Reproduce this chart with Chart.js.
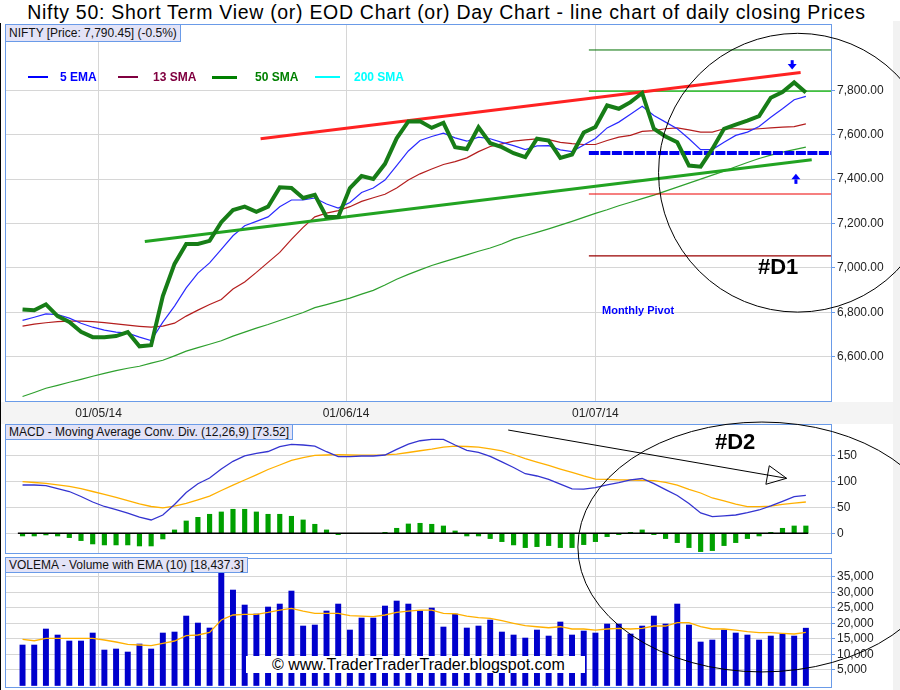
<!DOCTYPE html>
<html>
<head>
<meta charset="utf-8">
<title>Nifty 50 - Day Chart</title>
<script src="https://cdn.jsdelivr.net/npm/chart.js@4.4.1/dist/chart.umd.min.js"></script>
<style>
  html, body { margin: 0; padding: 0; background: #fff; }
  body { width: 900px; height: 690px; position: relative; overflow: hidden;
         font-family: "Liberation Sans", Arial, sans-serif; color: #111; }
  .abs { position: absolute; white-space: nowrap; }
  #title { left: 0; top: 0; width: 893px; text-align: center; font-size: 19.5px; letter-spacing: 0.7px;
           line-height: 24px; color: #000; }
  #rightStrip { left: 893px; top: 21px; width: 7px; height: 669px; background: #f2f2f2; }
  #dateBand { left: 0; top: 402px; width: 893px; height: 22px; background: #f4f4f4; }
  #leftRule { left: 0; top: 23px; width: 1px; height: 667px; background: #000; }
  .panel { position: absolute; left: 0; width: 893px; }
  .tag { position: absolute; left: 5px; padding: 0 3px; font-size: 12px; background: #e3e3f7;
         border: 1px solid #6a9be8; white-space: nowrap; color: #111; }
  .leg { position: absolute; top: 70px; font-size: 12px; line-height: 14px; font-weight: bold; }
  .legLine { position: absolute; top: 76px; height: 2px; }
  .note { position: absolute; font-weight: bold; white-space: nowrap; }
  #watermark { left: 246px; top: 656px; width: 313px; height: 17px; padding-left: 26px; background: #fff;
               font-size: 16px; line-height: 17px; color: #000; }
  #overlay { position: absolute; left: 0; top: 0; width: 900px; height: 690px; pointer-events: none; }
</style>
</head>
<body>
<div id="rightStrip" class="abs"></div>
<div id="dateBand" class="abs"></div>
<div id="title" class="abs">Nifty 50: Short Term View (or) EOD Chart (or) Day Chart - line chart of daily closing Prices</div>

<div class="panel" style="top:23px;height:402px"><canvas id="priceChart"></canvas></div>
<div class="panel" style="top:423px;height:131px"><canvas id="macdChart"></canvas></div>
<div class="panel" style="top:557px;height:131px"><canvas id="volumeChart"></canvas></div>

<div id="leftRule" class="abs"></div>

<div class="tag" style="top:24px;height:16px;line-height:16px">NIFTY [Price: 7,790.45] (-0.5%)</div>
<div class="tag" style="top:424px;height:14px;line-height:14px">MACD - Moving Average Conv. Div. (12,26,9) [73.52]</div>
<div class="tag" style="top:557px;height:14px;line-height:14px">VOLEMA - Volume with EMA (10) [18,437.3]</div>

<div class="legLine" style="left:28px;width:20px;background:#0000ff"></div>
<div class="leg" style="left:60px;color:#0000ff">5 EMA</div>
<div class="legLine" style="left:118px;width:20px;background:#800040"></div>
<div class="leg" style="left:153px;color:#800040">13 SMA</div>
<div class="legLine" style="left:212px;width:25px;background:#008000;height:2.5px"></div>
<div class="leg" style="left:255px;color:#008000">50 SMA</div>
<div class="legLine" style="left:315px;width:25px;background:#00ffff"></div>
<div class="leg" style="left:354px;color:#00ffff">200 SMA</div>

<div class="note" style="left:602px;top:304px;font-size:11px;line-height:13px;color:#0000ff">Monthly Pivot</div>
<div class="note" style="left:758px;top:255px;font-size:22px;line-height:24px;color:#000">#D1</div>
<div class="note" style="left:715px;top:430px;font-size:22px;line-height:24px;color:#000">#D2</div>

<div id="watermark" class="abs">© www.TraderTraderTrader.blogspot.com</div>

<canvas id="overlay"></canvas>

<script>
// daily closes and indicators, one value per trading day (21/04/14 .. 25/07/14)
const priceClose = [6813, 6809, 6836, 6783, 6757, 6712, 6688, 6688, 6693, 6711,
  6647, 6652, 6873, 7018, 7108, 7108, 7122, 7206, 7261, 7276,
  7253, 7276, 7363, 7360, 7315, 7329, 7230, 7230, 7360, 7414,
  7401, 7469, 7584, 7660, 7661, 7631, 7654, 7544, 7536, 7634,
  7562, 7544, 7517, 7499, 7582, 7574, 7496, 7511, 7610, 7635,
  7732, 7717, 7747, 7788, 7627, 7592, 7566, 7461, 7456, 7536,
  7627, 7646, 7664, 7684, 7767, 7792, 7836, 7790.45];

const ema5 = [6764, 6778, 6793, 6790, 6774, 6751, 6733, 6720, 6711, 6706,
  6688, 6673, 6756, 6828, 6910, 6977, 7023, 7084, 7145, 7190,
  7210, 7230, 7276, 7306, 7307, 7315, 7288, 7270, 7295, 7340,
  7360, 7396, 7461, 7527, 7574, 7592, 7607, 7586, 7571, 7589,
  7582, 7566, 7551, 7533, 7550, 7551, 7532, 7524, 7554, 7583,
  7631, 7657, 7692, 7728, 7687, 7657, 7627, 7582, 7533, 7533,
  7566, 7597, 7612, 7637, 7679, 7717, 7758, 7773];

const sma13 = [6738, 6747, 6753, 6758, 6760, 6760, 6758, 6754, 6748, 6742,
  6737, 6733, 6738, 6751, 6783, 6810, 6835, 6858, 6905, 6937,
  6980, 7025, 7070, 7129, 7183, 7230, 7247, 7258, 7276, 7300,
  7316, 7332, 7360, 7396, 7424, 7446, 7466, 7479, 7496, 7524,
  7547, 7559, 7571, 7577, 7581, 7578, 7566, 7560, 7556, 7556,
  7574, 7589, 7597, 7615, 7619, 7627, 7631, 7622, 7612, 7612,
  7627, 7627, 7624, 7627, 7631, 7634, 7637, 7649];

const sma50 = [6421, 6439, 6458, 6471, 6485, 6498, 6512, 6525, 6537, 6548,
  6557, 6571, 6584, 6604, 6625, 6641, 6656, 6672, 6693, 6711,
  6729, 6745, 6763, 6781, 6799, 6821, 6835, 6849, 6864, 6882,
  6899, 6923, 6949, 6971, 6991, 7011, 7027, 7043, 7059, 7075,
  7090, 7108, 7130, 7145, 7160, 7176, 7193, 7210, 7228, 7246,
  7262, 7280, 7296, 7312, 7328, 7346, 7364, 7382, 7400, 7418,
  7436, 7456, 7475, 7493, 7508, 7522, 7533, 7544];

const macdLine = [93.7, 93.7, 92.7, 86.9, 81.1, 71.4, 60.7, 52.0, 45.8, 39.0,
  31.2, 25.8, 35.5, 55.9, 79.2, 96.2, 107.3, 124.7, 139.7, 150.2,
  155.2, 158.7, 168.2, 172.7, 171.3, 169.0, 158.3, 148.6, 148.6, 150.0,
  150.0, 151.9, 163.0, 173.2, 179.6, 182.4, 182.4, 171.3, 161.0, 157.1,
  149.2, 138.7, 127.7, 115.6, 111.2, 104.8, 95.3, 86.3, 85.9, 88.5,
  93.9, 98.4, 103.6, 106.3, 96.4, 84.8, 73.3, 57.8, 39.6, 32.2,
  33.6, 35.5, 40.0, 45.2, 53.0, 62.1, 71.0, 73.52];

const macdSignal = [100.1, 98.6, 96.8, 93.9, 91.2, 86.7, 81.1, 75.5, 69.8, 63.6,
  57.0, 52.0, 49.5, 52.6, 58.0, 65.0, 72.2, 83.0, 93.5, 103.4,
  113.5, 123.8, 132.5, 141.6, 146.9, 151.3, 151.9, 152.5, 151.9, 151.5,
  151.7, 152.3, 153.5, 156.8, 160.2, 163.5, 167.4, 169.0, 168.4, 167.4,
  163.9, 160.1, 152.9, 145.1, 138.3, 131.7, 124.7, 118.0, 111.2, 105.3,
  104.6, 103.8, 103.4, 102.8, 102.2, 98.6, 93.3, 85.4, 78.2, 68.5,
  62.7, 56.8, 51.6, 51.6, 52.6, 56.1, 58.4, 60.7];

const macdHist = [-5.2, -5.2, -3.2, -5.2, -8.4, -14.2, -20.7, -22.6, -22.6, -22.6,
  -24.6, -24.6, -11.0, 6.5, 23.9, 31.0, 36.9, 41.4, 46.6, 46.6,
  41.4, 36.9, 36.9, 33.0, 25.9, 17.5, 6.5, -2.6, 0, 0,
  0, 1.9, 9.7, 18.1, 19.4, 17.5, 14.2, 4.5, -5.2, -5.2,
  -10.3, -16.2, -22.6, -27.8, -25.9, -23.9, -27.8, -27.8, -22.0, -16.2,
  -6.5, -2.6, 1.9, 6.5, -2.6, -10.3, -18.1, -27.8, -35.6, -33.6,
  -23.9, -18.1, -10.3, -5.2, 1.9, 9.7, 14.2, 14.2];

const volume = [13020, 13020, 18170, 16240, 14310, 14310, 16880, 11410, 11740, 10770,
  13340, 11740, 16880, 17200, 22340, 20090, 18490, 36810, 30700, 25880,
  22990, 25240, 26200, 30380, 19130, 19450, 23950, 26200, 17840, 21700,
  21700, 25560, 27170, 26200, 23950, 24920, 18810, 22990, 18490, 19130,
  21060, 17200, 16240, 15270, 17840, 15910, 20420, 16240, 17520, 16880,
  19770, 19770, 16560, 19130, 22340, 19770, 26200, 19450, 13990, 14630,
  17840, 16880, 16240, 14630, 15910, 16560, 15910, 18437.3];

const volumeEma = [14850, 14400, 15180, 15180, 15180, 15180, 15180, 14630, 13990, 13250,
  13020, 12800, 13570, 14310, 16010, 16240, 17100, 21060, 22670, 22890,
  22890, 23530, 24270, 24820, 23950, 23210, 23210, 23210, 22440, 22280,
  22120, 22670, 23530, 23950, 24270, 24270, 23210, 23080, 22340, 21800,
  21610, 20830, 20000, 19230, 18900, 18580, 18900, 18170, 18170, 17840,
  18170, 18390, 18170, 18390, 19130, 19130, 20190, 20190, 18900, 18170,
  18170, 17840, 17300, 16980, 16980, 16780, 16560, 17100];

// axis ticks (x in trading-day index units)
const dateTicks = [6.5, 27.67, 49];
const dateLabels = ['01/05/14', '01/06/14', '01/07/14'];
const priceTicks = [6600, 6800, 7000, 7200, 7400, 7600, 7800];
const macdTicks = [0, 50, 100, 150];
const volumeTicks = [5000, 10000, 15000, 20000, 25000, 30000, 35000];

// hand drawn trend lines and monthly pivot levels
const resistanceLine = [[20.36, 7582], [66.55, 7880]];
const supportLine = [[10.46, 7119], [67.5, 7487]];
const pivotFrom = 48.44;
const pivotValues = [7982, 7797, 7518, 7333, 7054];   // R2, R1, P, S1, S2
const macdZeroSpan = [-0.4, 67.2];

// annotation shapes, in data units of their panel
const d1Ring = { x: 66.3, y: 7429, rx: 11.9, ry: 628 };
const d2Ring = { x: 63.24, y: -26.6, rx: 15.74, ry: 242.5 };
const macdArrow = [[41.54, 200.4], [65.35, 106.7]];
const macdArrowHead = [[63.87, 131.1], [63.58, 95.1], [65.35, 106.7]];
const pivotArrows = [[65.83, 7936, 7894], [66.15, 7381, 7424]];

const X_MIN = -1.5, X_MAX = 69.15;
const GRID = '#d6d6d6';
const EDGE = '#6a9be8';

Chart.defaults.font.family = '"Liberation Sans", Arial, sans-serif';
Chart.defaults.font.size = 12;
Chart.defaults.color = '#222';
Chart.defaults.animation = false;
Chart.defaults.maintainAspectRatio = false;
Chart.defaults.plugins.legend.display = false;
Chart.defaults.plugins.tooltip.enabled = false;

const byIndex = arr => arr.map((v, i) => ({ x: i, y: v }));
const pairs = arr => arr.map(p => ({ x: p[0], y: p[1] }));

// blue frame round each plot area
const frame = {
  id: 'frame',
  afterDraw(chart) {
    const { ctx, chartArea: a } = chart;
    ctx.save();
    ctx.strokeStyle = EDGE;
    ctx.lineWidth = 1;
    ctx.strokeRect(Math.round(a.left) + 0.5, Math.round(a.top) + 0.5,
      Math.round(a.width), Math.round(a.height) - 1);
    ctx.restore();
  }
};

function xAxis(showLabels) {
  return {
    type: 'linear', min: X_MIN, max: X_MAX, offset: false,
    afterBuildTicks: s => { s.ticks = dateTicks.map(v => ({ value: v })); },
    afterFit: s => { s.height = showLabels ? 23 : 0; s.paddingLeft = 0; s.paddingRight = 0; },
    grid: { color: GRID, drawTicks: false, offset: false },
    border: { display: false },
    ticks: { display: showLabels, padding: 4, maxRotation: 0, autoSkip: false,
      callback: (v, i) => dateLabels[i] }
  };
}

function yAxis(min, max, ticks, fmt) {
  return {
    position: 'right', min, max,
    afterBuildTicks: s => { s.ticks = ticks.map(v => ({ value: v })); },
    afterFit: s => { s.width = 62; s.paddingTop = 0; s.paddingBottom = 0; },
    grid: { color: GRID, tickColor: EDGE, tickLength: 4 },
    border: { display: false },
    ticks: { padding: 2, color: '#222', callback: fmt }
  };
}

function line(data, color, width, order, extra) {
  return Object.assign({ type: 'line', data, borderColor: color, borderWidth: width,
    pointRadius: 0, fill: false, tension: 0, order }, extra || {});
}

const pivotColors = ['#007000', '#00b000', '#0000ee', '#ee0000', '#990000'];
const pivotWidths = [1, 1.2, 4, 1.2, 1.3];

const priceChart = new Chart(document.getElementById('priceChart'), {
  type: 'line',
  data: {
    datasets: [
      line(byIndex(priceClose), '#177d17', 4, 0),
      line(byIndex(ema5), '#2a2aff', 1.2, 3),
      line(byIndex(sma13), '#b41e1e', 1.2, 4),
      line(byIndex(sma50), '#2ea02e', 1.2, 5),
      line(pairs(resistanceLine), '#ff2222', 3, 1),
      line(pairs(supportLine), '#22a322', 3, 1)
    ].concat(pivotValues.map((v, i) => line(
      [{ x: pivotFrom, y: v }, { x: X_MAX, y: v }], pivotColors[i], pivotWidths[i], 2,
      i === 2 ? { borderDash: [10, 1.5] } : {})))
  },
  options: {
    layout: { padding: { left: 5, top: 1, right: 0, bottom: 0 } },
    scales: {
      x: xAxis(true),
      y: yAxis(6396, 8099, priceTicks,
        v => v.toLocaleString('en-US', { minimumFractionDigits: 2, maximumFractionDigits: 2 }))
    }
  },
  plugins: [frame]
});

const macdChart = new Chart(document.getElementById('macdChart'), {
  type: 'bar',
  data: {
    datasets: [
      { type: 'bar', data: byIndex(macdHist), backgroundColor: '#00a000', barThickness: 4.5, order: 3 },
      line(pairs(macdZeroSpan.map(x => [x, 0])), '#000', 1.5, 2),
      line(byIndex(macdSignal), '#ffb000', 1.3, 1),
      line(byIndex(macdLine), '#3434d0', 1.3, 0)
    ]
  },
  options: {
    layout: { padding: { left: 5, top: 1, right: 0, bottom: 0 } },
    scales: { x: xAxis(false), y: yAxis(-40.2, 212.1, macdTicks, v => String(v)) }
  },
  plugins: [frame]
});

const volumeChart = new Chart(document.getElementById('volumeChart'), {
  type: 'bar',
  data: {
    datasets: [
      { type: 'bar', data: byIndex(volume), backgroundColor: '#0000cc', barThickness: 5.3, order: 1 },
      line(byIndex(volumeEma), '#ffb000', 1.3, 0)
    ]
  },
  options: {
    layout: { padding: { left: 5, top: 1, right: 0, bottom: 0 } },
    scales: { x: xAxis(false), y: yAxis(-800, 41000, volumeTicks, v => v.toLocaleString('en-US')) }
  },
  plugins: [frame]
});

// rings and arrows drawn across panels
function toPage(chart, x, y) {
  const r = chart.canvas.getBoundingClientRect();
  return [r.left + chart.scales.x.getPixelForValue(x), r.top + chart.scales.y.getPixelForValue(y)];
}

function ring(ctx, chart, e) {
  const [cx, cy] = toPage(chart, e.x, e.y);
  const [ex, ey] = toPage(chart, e.x + e.rx, e.y - e.ry);
  ctx.beginPath();
  ctx.ellipse(cx, cy, Math.abs(ex - cx), Math.abs(ey - cy), 0, 0, Math.PI * 2);
  ctx.stroke();
}

function blueArrow(ctx, chart, x, yFrom, yTip) {
  const [px, p0] = toPage(chart, x, yFrom);
  const p1 = toPage(chart, x, yTip)[1];
  const dir = Math.sign(p1 - p0);
  const neck = p1 - dir * 5.5;
  ctx.fillStyle = '#0000ff';
  ctx.fillRect(px - 1.5, Math.min(p0, neck), 3, Math.abs(neck - p0) + 0.5);
  ctx.beginPath();
  ctx.moveTo(px, p1);
  ctx.lineTo(px - 4.5, neck);
  ctx.lineTo(px + 4.5, neck);
  ctx.closePath();
  ctx.fill();
}

function drawOverlay() {
  const cv = document.getElementById('overlay');
  const dpr = window.devicePixelRatio || 1;
  cv.width = 900 * dpr;
  cv.height = 690 * dpr;
  const ctx = cv.getContext('2d');
  ctx.scale(dpr, dpr);
  ctx.strokeStyle = '#000';
  ctx.lineWidth = 1;

  ring(ctx, priceChart, d1Ring);
  ring(ctx, macdChart, d2Ring);

  const a = macdArrow.map(p => toPage(macdChart, p[0], p[1]));
  ctx.beginPath();
  ctx.moveTo(a[0][0], a[0][1]);
  ctx.lineTo(a[1][0], a[1][1]);
  ctx.stroke();
  const h = macdArrowHead.map(p => toPage(macdChart, p[0], p[1]));
  ctx.beginPath();
  ctx.moveTo(h[0][0], h[0][1]);
  h.slice(1).forEach(p => ctx.lineTo(p[0], p[1]));
  ctx.closePath();
  ctx.stroke();

  pivotArrows.forEach(p => blueArrow(ctx, priceChart, p[0], p[1], p[2]));
}

drawOverlay();
</script>
</body>
</html>
